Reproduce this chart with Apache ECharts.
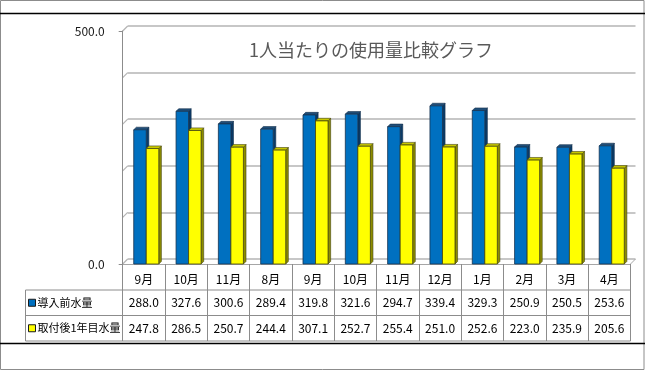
<!DOCTYPE html>
<html><head><meta charset="utf-8">
<script src="https://cdn.jsdelivr.net/npm/echarts@6/dist/echarts.min.js"></script>
<style>html,body{margin:0;padding:0;background:#fff}#c{width:645px;height:370px}</style>
</head><body><div id="c"></div>
<script>
const categories = ['9月','10月','11月','8月','9月','10月','11月','12月','1月','2月','3月','4月'];
const beforeValues = [288.0,327.6,300.6,289.4,319.8,321.6,294.7,339.4,329.3,250.9,250.5,253.6];
const afterValues = [247.8,286.5,250.7,244.4,307.1,252.7,255.4,251.0,252.6,223.0,235.9,205.6];
const seriesNames = ['導入前水量','取付後1年目水量'];
const yMin = 0, yMax = 500, gridStep = 100;
const titleText = '1人当たりの使用量比較グラフ';

const FONT = "'Noto Sans CJK JP','Noto Sans',sans-serif";
const L = 122.7, R = 14.5, T = 31, B = 106, D = 5;
const W = 645, H = 370;
const palettes = [
  {front:'#0070C0', top:'#1F4E79', side:'#0A3A66', edge:'#17324f'},
  {front:'#FFFF00', top:'#C8C800', side:'#8C8C00', edge:'#45450f'}
];

function barRender(sIdx) {
  const c = palettes[sIdx];
  return function (params, api) {
    const i = api.value(0), v = api.value(1);
    const base = api.coord([i, 0]);
    const top = api.coord([i, v]);
    const band = api.size([1, 0])[0];
    const w = band * 0.296;
    const d = 2.6;
    const x0 = base[0] + 2.4 + (sIdx === 0 ? -w : 0);
    const ty = top[1], by = base[1];
    return {type:'group', children:[
      {type:'polygon', shape:{points:[[x0+w,ty],[x0+w+d,ty-d],[x0+w+d,by-d],[x0+w,by]]}, style:{fill:c.side, stroke:c.edge, lineWidth:0.6}},
      {type:'polygon', shape:{points:[[x0,ty],[x0+d,ty-d],[x0+w+d,ty-d],[x0+w,ty]]}, style:{fill:c.top, stroke:c.edge, lineWidth:0.6}},
      {type:'rect', shape:{x:x0, y:ty, width:w, height:by-ty}, style:{fill:c.front, stroke:c.edge, lineWidth:0.8}}
    ]};
  };
}

const chart = echarts.init(document.getElementById('c'), null, {renderer:'canvas'});
const option = {
  animation:false,
  textStyle:{fontFamily:FONT},
  title:{text:titleText, left:249, top:41, padding:0,
    textStyle:{fontFamily:FONT, fontSize:18, fontWeight:'normal', color:'#595959'}},
  grid:[
    {left:L, right:R, top:T, bottom:B},
    {left:L+D, right:R-D, top:T-D, bottom:B+D}
  ],
  xAxis:[
    {type:'category', gridIndex:0, data:categories, boundaryGap:true,
      axisLine:{show:true, lineStyle:{color:'#a6a6a6', width:1}},
      axisTick:{show:true, interval:0, alignWithLabel:false, length:77, lineStyle:{color:'#8c8c8c'}},
      axisLabel:{interval:0, margin:9, fontSize:12, color:'#000', fontFamily:FONT},
      splitLine:{show:false}, z:1},
    {type:'category', gridIndex:1, data:categories, show:false}
  ],
  yAxis:[
    {type:'value', gridIndex:0, min:yMin, max:yMax, interval:yMax - yMin,
      axisLine:{show:true, lineStyle:{color:'#8c8c8c'}},
      axisTick:{show:true, length:4, lineStyle:{color:'#8c8c8c'}},
      axisLabel:{margin:18, fontSize:12, color:'#1a1a1a', fontFamily:FONT, formatter:v => v.toFixed(1)},
      splitLine:{show:false}},
    {type:'value', gridIndex:1, min:yMin, max:yMax, interval:gridStep,
      axisLine:{show:false}, axisTick:{show:false}, axisLabel:{show:false},
      splitLine:{show:true, lineStyle:{color:'#b5b5b5', width:1.5}}}
  ],
  series:[
    {type:'custom', name:seriesNames[0], xAxisIndex:0, yAxisIndex:0, renderItem:barRender(0),
      data:beforeValues.map((v,i)=>[i,v]), z:5},
    {type:'custom', name:seriesNames[1], xAxisIndex:0, yAxisIndex:0, renderItem:barRender(1),
      data:afterValues.map((v,i)=>[i,v]), z:6}
  ]
};
chart.setOption(option);

// decorations and data table built from axis pixel positions
const g = [];
const line = (x1,y1,x2,y2,color,w) => g.push({type:'line', shape:{x1,y1,x2,y2}, style:{stroke:color, lineWidth:w||1}, silent:true});
for (let v = yMin; v <= yMax; v += gridStep) {
  const yf = chart.convertToPixel({yAxisIndex:0}, v);
  const yb = chart.convertToPixel({yAxisIndex:1}, v);
  line(L, yf, L + D, yb, '#b5b5b5', 1.2);
}
const y0f = chart.convertToPixel({yAxisIndex:0}, yMin);
const y0b = chart.convertToPixel({yAxisIndex:1}, yMin);
const rightF = W - R;
line(rightF, y0f, rightF + D, y0b, '#a6a6a6', 1);

// table
const r1 = 290, r2 = 315.5, r3 = 341, tableL = 25.5;
const gray = '#8c8c8c';
[r1, r2, r3].forEach(y => line(tableL, y, rightF, y, gray, 1));
line(tableL, r1, tableL, r3, gray, 1);
const rows = [beforeValues, afterValues];
rows.forEach((vals, ri) => {
  const cy = ri === 0 ? (r1 + r2) / 2 : (r2 + r3) / 2;
  vals.forEach((v, i) => {
    const cx = chart.convertToPixel({xAxisIndex:0}, i);
    g.push({type:'text', x:cx, y:cy, style:{text:v.toFixed(1), fontSize:12, fontFamily:FONT, fill:'#000', align:'center', verticalAlign:'middle'}, silent:true});
  });
  const p = palettes[ri];
  g.push({type:'rect', shape:{x:28.5, y:cy-3.5, width:7, height:7}, style:{fill:p.front, stroke:'#1a1a1a', lineWidth:1}, silent:true});
  g.push({type:'text', x:37.5, y:cy, style:{text:seriesNames[ri], fontSize:11, fontFamily:FONT, fill:'#000', align:'left', verticalAlign:'middle'}, silent:true});
});

// frame
g.push({type:'rect', shape:{x:0.5, y:0.5, width:W-1.5, height:H-1}, style:{fill:null, stroke:'#8c8c8c', lineWidth:1}, silent:true});
line(0, 13.5, W, 13.5, '#000', 1.5);
line(0, 343.5, W, 343.5, '#000', 1.5);

chart.setOption({graphic:g});
</script></body></html>
